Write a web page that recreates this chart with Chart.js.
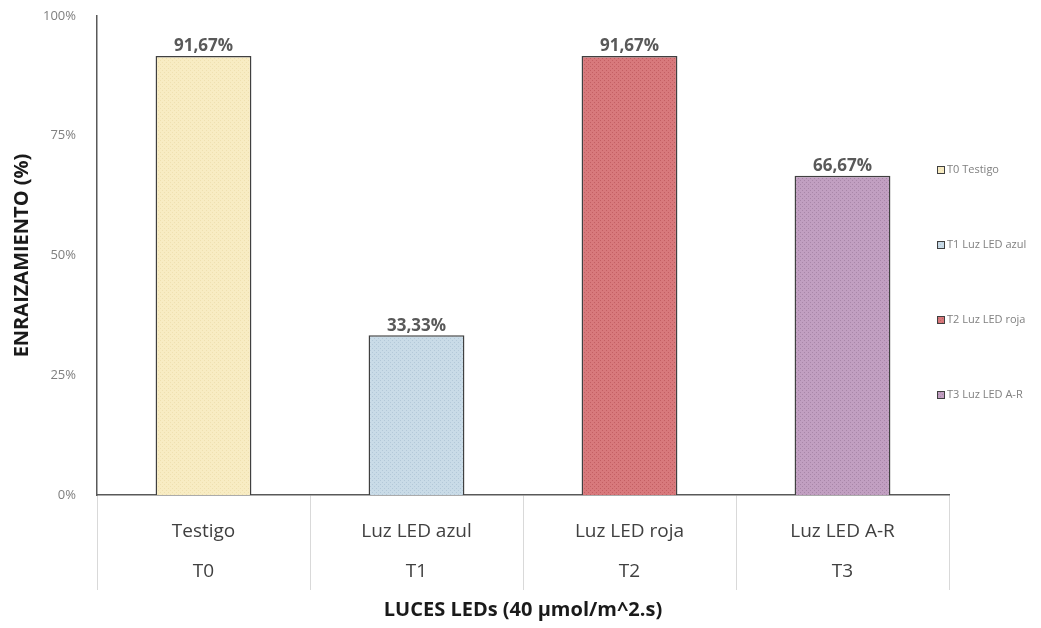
<!DOCTYPE html>
<html>
<head>
<meta charset="utf-8">
<script src="https://cdn.jsdelivr.net/npm/chart.js@4.4.1/dist/chart.umd.min.js"></script>
<style>
  body { margin: 0; background: #fff; }
  #wrap { width: 1041px; height: 628px; }
</style>
</head>
<body>
<div id="wrap"><canvas id="enraizChart" width="1041" height="628"></canvas></div>
<script>
const categories = ['Testigo', 'Luz LED azul', 'Luz LED roja', 'Luz LED A-R'];
const codes = ['T0', 'T1', 'T2', 'T3'];
const rooting = [91.67, 33.33, 91.67, 66.67];
const legendLabels = ['T0 Testigo', 'T1 Luz LED azul', 'T2 Luz LED roja', 'T3 Luz LED A-R'];
const yTicks = [0, 25, 50, 75, 100];

const baseColors = ['#f8ecc3', '#c9dbe7', '#d8797c', '#c19fc1'];
const dotColors = ['#efe0b0', '#b3c8d8', '#c45f63', '#a886a8'];

// small dotted pattern like the office "hatch" fill
function makePattern(base, dot) {
    const c = document.createElement('canvas');
    c.width = 4; c.height = 4;
    const g = c.getContext('2d');
    g.fillStyle = base;
    g.fillRect(0, 0, 4, 4);
    g.fillStyle = dot;
    g.fillRect(0, 0, 1, 1);
    g.fillRect(2, 2, 1, 1);
    return g.createPattern(c, 'repeat');
}
const fills = baseColors.map((b, i) => makePattern(b, dotColors[i]));

const valueLabels = {
    id: 'valueLabels',
    afterDatasetsDraw(chart) {
        const ctx = chart.ctx;
        const meta = chart.getDatasetMeta(0);
        ctx.save();
        ctx.font = 'bold 17px "Open Sans"';
        ctx.fillStyle = '#595959';
        ctx.textAlign = 'center';
        ctx.textBaseline = 'bottom';
        meta.data.forEach((bar, i) => {
            const v = chart.data.datasets[0].data[i];
            ctx.fillText(v.toFixed(2).replace('.', ',') + '%', bar.x, bar.y - 1);
        });
        ctx.restore();
    }
};

// tiny legend on the right, spaced out like the original
const sideLegend = {
    id: 'sideLegend',
    afterDraw(chart) {
        const ctx = chart.ctx;
        const area = chart.chartArea;
        const x = area.right - 12;
        const y0 = area.top + 154;
        const step = 75;
        ctx.save();
        ctx.font = '11px "Open Sans"';
        ctx.textBaseline = 'middle';
        ctx.textAlign = 'left';
        legendLabels.forEach((t, i) => {
            const y = y0 + i * step;
            ctx.fillStyle = fills[i];
            ctx.fillRect(x, y - 4, 8, 8);
            ctx.strokeStyle = '#404040';
            ctx.lineWidth = 1;
            ctx.strokeRect(x + 0.5, y - 3.5, 7, 7);
            ctx.fillStyle = '#808080';
            ctx.fillText(t, x + 10, y);
        });
        ctx.restore();
    }
};

const ctx = document.getElementById('enraizChart').getContext('2d');
const enraizChart = new Chart(ctx, {
    type: 'bar',
    data: {
        labels: categories.map((c, i) => [c, codes[i]]),
        datasets: [{
            label: 'Enraizamiento',
            data: rooting,
            backgroundColor: fills,
            borderColor: '#404040',
            borderWidth: 1.5,
            borderSkipped: 'bottom',
            categoryPercentage: 1,
            barPercentage: 0.45
        }]
    },
    options: {
        responsive: false,
        animation: false,
        layout: { padding: { left: 10, top: 16, right: 92, bottom: 6 } },
        scales: {
            x: {
                grid: {
                    offset: true,
                    drawOnChartArea: false,
                    tickLength: 95,
                    color: '#d9d9d9'
                },
                border: { display: true, color: '#595959', width: 1.5 },
                ticks: {
                    padding: -78,
                    color: '#404040',
                    font: { family: 'Open Sans', size: 19, lineHeight: 2.1 }
                },
                title: {
                    display: true,
                    text: 'LUCES LEDs (40 µmol/m^2.s)',
                    color: '#1a1a1a',
                    font: { family: 'Open Sans', size: 20, weight: 'bold' },
                    padding: 0
                },
                afterFit(scale) { scale.height = 127; }
            },
            y: {
                min: 0,
                max: 100,
                grid: { display: false },
                border: { display: true, color: '#595959', width: 1.5 },
                afterBuildTicks(scale) { scale.ticks = yTicks.map(v => ({ value: v })); },
                ticks: {
                    padding: 13,
                    color: '#7f7f7f',
                    font: { family: 'Open Sans', size: 13 },
                    callback: v => v + '%'
                },
                title: {
                    display: true,
                    text: 'ENRAIZAMIENTO (%)',
                    color: '#1a1a1a',
                    font: { family: 'Open Sans', size: 20, weight: 'bold' },
                    padding: 0
                },
                afterFit(scale) {
                    scale.width = 87;
                    scale.paddingTop = 0;
                    scale.paddingBottom = 0;
                }
            }
        },
        plugins: {
            legend: { display: false },
            tooltip: { enabled: false }
        }
    },
    plugins: [valueLabels, sideLegend]
});
</script>
</body>
</html>
